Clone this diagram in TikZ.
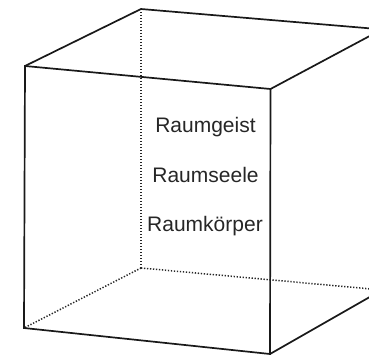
\documentclass[tikz,border=0pt]{standalone}
\usepackage{fontspec}
\setmainfont{Liberation Sans}
\begin{document}
\begin{tikzpicture}[x=1pt,y=1pt,
  edge/.style={line width=1.7pt, line join=miter, color=black!90},
  hidden/.style={line width=1.5pt, dash pattern=on 1.3pt off 1.7pt, color=black!85},
  label/.style={font=\fontsize{21}{25}\selectfont, text=black!85, anchor=base, inner sep=0pt}]
  \useasboundingbox (0,0) rectangle (369,357);
  \clip (0,0) rectangle (369,357);
  % front face corners
  \coordinate (FTL) at (25,291);
  \coordinate (FTR) at (270.5,268);
  \coordinate (FBR) at (270,3);
  \coordinate (FBL) at (24,29);
  % back face corners
  \coordinate (BTL) at (141,348);
  \coordinate (BTR) at (382,327.6);
  \coordinate (BBR) at (382,67);
  \coordinate (BBL) at (141,89);
  % hidden edges
  \draw[hidden] (BTL) -- (BBL);
  \draw[hidden] (BBL) -- (BBR);
  \draw[hidden] (BBL) -- (FBL);
  % visible edges
  \draw[edge] (FTL) -- (FTR) -- (FBR) -- (FBL) -- cycle;
  \draw[edge] (FTL) -- (BTL) -- (BTR) -- (FTR);
  \draw[edge] (BTR) -- (BBR) -- (FBR);
  % labels
  \node[label] (geist) at (205.5,225) {Raumgeist};
  \node[label] (seele) at (205.5,174.5) {Raumseele};
  \node[label] (koerper) at (205,125.5) {Raumkörper};
\end{tikzpicture}
\end{document}
